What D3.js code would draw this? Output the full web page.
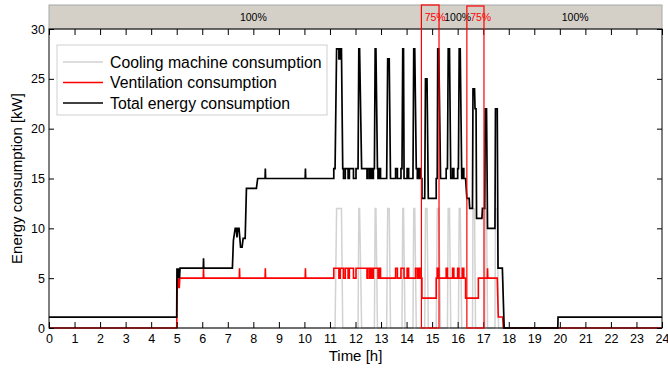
<!DOCTYPE html>
<html>
<head>
<meta charset="utf-8">
<script src="https://cdn.jsdelivr.net/npm/d3@7"></script>
<style>
  html, body { margin: 0; padding: 0; background: #fff; }
  svg { display: block; font-family: "Liberation Sans", Arial, Helvetica, sans-serif; }
</style>
</head>
<body>
<svg id="chart" width="668" height="371"></svg>
<script>
// ---------------- DATA ----------------
const hourTicks = d3.range(0, 25);          // 0..24
const yTicks = [0, 5, 10, 15, 20, 25, 30];

const seriesNames = ["Cooling machine consumption", "Ventilation consumption", "Total energy consumption"];

// Cooling machine consumption [h, kW]
const cooling = [
  [0,0],[11.20,0],[11.26,12],[11.45,12],[11.50,0],
  [12.10,0],[12.13,12],[12.16,12],[12.24,0],
  [12.74,0],[12.77,12],[12.80,12],[12.86,0],
  [13.22,0],[13.26,12],[13.32,12],[13.37,0],
  [13.82,0],[13.85,12],[13.88,12],[13.94,0],
  [14.25,0],[14.28,12],[14.32,12],[14.38,0],
  [14.71,0],[14.74,12],[14.80,12],[14.85,0],
  [15.16,0],[15.20,12],[15.26,12],[15.33,0],
  [15.60,0],[15.63,12],[15.68,12],[15.73,0],
  [16.03,0],[16.06,12],[16.10,12],[16.16,0],
  [16.58,0],[16.60,12],[16.66,12],[16.70,0],
  [17.06,0],[17.08,12],[17.13,12],[17.17,0],
  [17.46,0],[17.48,12],[17.55,12],[17.60,0],
  [24,0]
];

// Ventilation consumption [h, kW]
const ventilation = [
  [0,0],[5.00,0],[5.02,4],[5.04,5],[5.06,4],[5.08,5],[5.10,4],[5.12,5],
  [6.04,5],[6.05,6],[6.06,5],
  [7.45,5],[7.46,6],[7.47,5],
  [8.46,5],[8.47,6],[8.48,5],
  [10.03,5],[10.04,6],[10.05,5],
  [11.15,5],[11.15,6],
  [11.35,6],[11.35,5],[11.40,5],[11.40,6],
  [11.53,6],[11.53,5],[11.60,5],[11.60,6],
  [11.71,6],[11.71,5],[11.76,5],[11.76,6],
  [11.92,6],[11.92,5],[12.02,5],[12.02,6],
  [12.45,6],[12.45,5],[12.49,5],[12.49,6],
  [12.56,6],[12.56,5],[12.60,5],[12.60,6],
  [12.66,6],[12.66,5],[12.70,5],[12.70,6],
  [12.88,6],[12.88,5],[12.92,5],[12.92,6],
  [12.98,6],[12.98,5],
  [13.57,5],[13.57,6],[13.64,6],[13.64,5],
  [13.78,5],[13.78,6],[13.90,6],[13.90,5],
  [14.02,5],[14.02,6],[14.08,6],[14.08,5],
  [14.35,5],[14.35,6],[14.42,6],[14.42,5],
  [14.48,5],[14.48,6],[14.53,6],[14.53,5],
  [14.60,5],[14.60,3],[15.16,3],[15.16,5],
  [15.20,5],[15.20,6],[15.26,6],[15.26,5],
  [15.55,5],[15.55,6],[15.60,6],[15.60,5],
  [15.80,5],[15.80,6],[15.85,6],[15.85,5],
  [16.00,5],[16.00,6],[16.05,6],[16.05,5],
  [16.18,5],[16.18,6],[16.24,6],[16.24,5],
  [16.31,5],[16.31,3],[16.81,3],[16.81,5],
  [17.16,5],[17.17,6],[17.18,5],
  [17.55,5],[17.59,1.1],[17.76,1.1],[17.79,0],
  [24,0]
];

// Total energy consumption [h, kW]
const total = [
  [0,1.1],[5.00,1.1],[5.01,6],[5.03,5],[5.05,6],[5.07,5],[5.09,6],[5.11,5],[5.13,6],
  [6.04,6],[6.05,7],[6.06,6],
  [7.18,6],[7.22,8.8],[7.29,10],[7.33,10],[7.36,9.1],[7.39,10],[7.44,10],
  [7.50,8.1],[7.56,8.1],[7.60,9.0],[7.68,9.0],[7.73,14],[8.12,14],[8.17,15],
  [8.46,15],[8.47,16],[8.48,15],
  [10.03,15],[10.04,16],[10.05,15],
  [11.15,15],[11.15,16],[11.20,16],[11.26,28],[11.35,28],[11.35,27],[11.40,27],[11.40,28],[11.45,28],[11.50,16],
  [11.53,16],[11.53,15],[11.60,15],[11.60,16],
  [11.71,16],[11.71,15],[11.76,15],[11.76,16],
  [11.92,16],[11.92,15],[12.02,15],[12.02,16],
  [12.10,16],[12.13,28],[12.16,28],[12.24,16],
  [12.45,16],[12.45,15],[12.49,15],[12.49,16],
  [12.56,16],[12.56,15],[12.60,15],[12.60,16],
  [12.66,16],[12.66,15],[12.70,15],[12.70,16],
  [12.74,16],[12.77,28],[12.80,28],[12.86,16],
  [12.88,16],[12.88,15],[12.92,15],[12.92,16],
  [12.98,16],[12.98,15],
  [13.22,15],[13.26,27],[13.32,27],[13.37,15],
  [13.57,15],[13.57,16],[13.64,16],[13.64,15],
  [13.78,15],[13.78,16],[13.82,16],[13.85,28],[13.88,28],[13.90,16],[13.90,15],
  [14.02,15],[14.02,16],[14.08,16],[14.08,15],
  [14.25,15],[14.28,28],[14.32,28],[14.38,16],[14.42,16],[14.42,15],
  [14.48,15],[14.48,16],[14.53,16],[14.53,15],
  [14.60,15],[14.60,13],[14.71,13],[14.74,25],[14.80,25],[14.85,13],
  [15.16,13],[15.16,15],[15.20,15],[15.22,28],[15.26,28],[15.33,15],
  [15.55,15],[15.55,16],[15.60,16],[15.63,28],[15.68,28],[15.73,15],
  [15.80,15],[15.80,16],[15.85,16],[15.85,15],
  [16.00,15],[16.00,16],[16.03,16],[16.06,28],[16.10,28],[16.16,15],
  [16.18,15],[16.18,16],[16.24,16],[16.24,15],
  [16.31,15],[16.36,13],[16.45,13],[16.47,12],[16.58,12],[16.60,24],[16.66,24],
  [16.68,22],[16.72,22],[16.74,11],[16.95,11],[16.97,12],[17.06,12],[17.08,22],[17.13,22],
  [17.17,10],[17.46,10],[17.48,22],[17.55,22],[17.58,6],[17.75,6],[17.82,0],
  [19.92,0],[19.93,1.1],[24,1.1]
];

// Operating mode band
const reducedPeriods = [[14.58, 15.27], [16.36, 17.03]];
const bandLabels = ["100%", "75%", "100%", "75%", "100%"];
const bandLabelHours = [8.0, 15.12, 16.0, 16.9, 20.6];
const bandLabelReduced = [false, true, false, true, false];

// ---------------- DRAWING ----------------
const svg = d3.select("#chart");
const x = d3.scaleLinear().domain([0, 24]).range([49, 662]);
const y = d3.scaleLinear().domain([0, 30]).range([328, 29]);
const bandTop = 5, bandBottom = y(30);
const font = "'Liberation Sans', Arial, Helvetica, sans-serif";

// top band
svg.append("rect")
  .attr("x", x(0)).attr("y", bandTop)
  .attr("width", x(24) - x(0)).attr("height", bandBottom - bandTop)
  .attr("fill", "#d4d0c8").attr("stroke", "#a8a8a8").attr("stroke-width", 1);

bandLabels.forEach((lab, i) => {
  svg.append("text")
    .attr("x", x(bandLabelHours[i])).attr("y", 21)
    .attr("text-anchor", "middle")
    .attr("font-size", 10.5)
    .attr("fill", bandLabelReduced[i] ? "#ff0000" : "#000")
    .text(lab);
});

const line = d3.line().x(d => x(d[0])).y(d => y(d[1]));

svg.append("path").datum(cooling)
  .attr("d", line).attr("fill", "none")
  .attr("stroke", "#d2d2d2").attr("stroke-width", 1.5);
svg.append("path").datum(ventilation)
  .attr("d", line).attr("fill", "none")
  .attr("stroke", "#ff0000").attr("stroke-width", 1.6);
svg.append("path").datum(total)
  .attr("d", line).attr("fill", "none")
  .attr("stroke", "#000").attr("stroke-width", 1.7);

// axes (ticks inward)
const gx = svg.append("g").attr("transform", `translate(0,${y(0)})`)
  .call(d3.axisBottom(x).tickValues(hourTicks).tickFormat(d3.format("d"))
        .tickSizeInner(-6).tickSizeOuter(0).tickPadding(6));
const gxt = svg.append("g").attr("transform", `translate(0,${y(30)})`)
  .call(d3.axisTop(x).tickValues(hourTicks).tickFormat("")
        .tickSizeInner(-6).tickSizeOuter(0));
const gy = svg.append("g").attr("transform", `translate(${x(0)},0)`)
  .call(d3.axisLeft(y).tickValues(yTicks).tickFormat(d3.format("d"))
        .tickSizeInner(-5).tickSizeOuter(0).tickPadding(4));
const gyr = svg.append("g").attr("transform", `translate(${x(24)},0)`)
  .call(d3.axisRight(y).tickValues(yTicks).tickFormat("")
        .tickSizeInner(-5).tickSizeOuter(0));
[gx, gxt, gy, gyr].forEach(g => {
  g.select(".domain").remove();
  g.selectAll(".tick line").attr("stroke", "#000");
  g.selectAll("text").attr("font-size", 12.5).attr("font-family", font).attr("fill", "#000");
});

// frame
svg.append("rect")
  .attr("x", x(0)).attr("y", y(30))
  .attr("width", x(24) - x(0)).attr("height", y(0) - y(30))
  .attr("fill", "none").attr("stroke", "#000").attr("stroke-width", 1);

// reduced-mode rectangles
reducedPeriods.forEach((p, i) => {
  svg.append("rect")
    .attr("x", x(p[0])).attr("y", bandTop + (i === 1 ? 1 : 0))
    .attr("width", x(p[1]) - x(p[0])).attr("height", y(0) - bandTop - (i === 1 ? 1 : 0))
    .attr("fill", "none").attr("stroke", "#ff0000").attr("stroke-width", 1.2);
});

// axis titles
svg.append("text")
  .attr("x", (x(0) + x(24)) / 2).attr("y", 361)
  .attr("text-anchor", "middle").attr("font-size", 15)
  .text("Time [h]");
svg.append("text")
  .attr("transform", `translate(22,${(y(0) + y(30)) / 2}) rotate(-90)`)
  .attr("text-anchor", "middle").attr("font-size", 15)
  .text("Energy consumption [kW]");

// legend
const legend = svg.append("g");
legend.append("rect")
  .attr("x", 57).attr("y", 45).attr("width", 270).attr("height", 70)
  .attr("fill", "#fff").attr("stroke", "#cfcfcf").attr("stroke-width", 1);
const legendColors = ["#d2d2d2", "#ff0000", "#000"];
seriesNames.forEach((name, i) => {
  const ly = 62 + i * 20.5;
  legend.append("line")
    .attr("x1", 63).attr("x2", 103).attr("y1", ly).attr("y2", ly)
    .attr("stroke", legendColors[i]).attr("stroke-width", 1.5);
  legend.append("text")
    .attr("x", 110).attr("y", ly + 5.5)
    .attr("font-size", 15.8)
    .text(name);
});
</script>
</body>
</html>
